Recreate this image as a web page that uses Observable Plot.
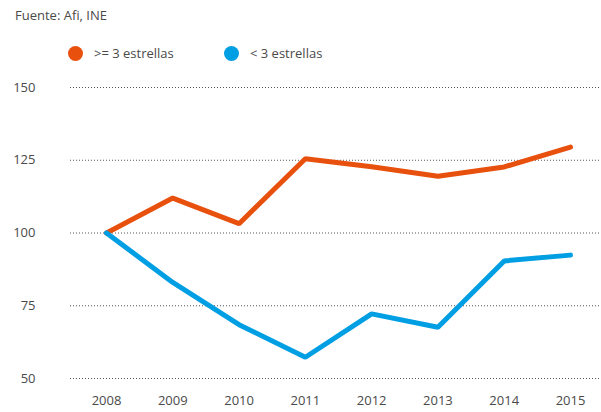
<!DOCTYPE html>
<html>
<head>
<meta charset="utf-8">
<script src="https://cdn.jsdelivr.net/npm/d3@7"></script>
<script src="https://cdn.jsdelivr.net/npm/@observablehq/plot@0.6"></script>
<style>
  html, body { margin: 0; padding: 0; background: #fff; }
  body { width: 601px; height: 412px; position: relative; overflow: hidden; font-family: "Open Sans", "Noto Sans", sans-serif; color: #4a4a4a; }
  #caption { position: absolute; left: 15px; top: 5px; font-size: 13px; line-height: 20px; }
  #legend { position: absolute; left: 0; top: 43px; height: 20px; width: 601px; font-size: 13px; }
  .item { position: absolute; top: 0; display: flex; align-items: center; height: 20px; }
  .dot { width: 15px; height: 15px; border-radius: 50%; margin-right: 11px; }
  #chart { position: absolute; left: 0; top: 70px; }
</style>
</head>
<body>
<div id="caption">Fuente: Afi, INE</div>
<div id="legend"></div>
<div id="chart"></div>
<script>
const years = [2008, 2009, 2010, 2011, 2012, 2013, 2014, 2015];
const highStars = [100, 112, 103.2, 125.5, 122.8, 119.5, 122.7, 129.5];
const lowStars = [100, 83, 68.5, 57.3, 72.2, 67.6, 90.4, 92.4];
const seriesNames = [">= 3 estrellas", "< 3 estrellas"];
const seriesColors = ["#E8500E", "#009EE2"];
const yTicks = [50, 75, 100, 125, 150];

const data = [];
years.forEach((y, i) => {
  data.push({year: y, value: highStars[i], serie: seriesNames[0]});
  data.push({year: y, value: lowStars[i], serie: seriesNames[1]});
});

const legend = document.getElementById("legend");
const legendX = [68, 224];
seriesNames.forEach((n, i) => {
  const it = document.createElement("div");
  it.className = "item";
  it.style.left = legendX[i] + "px";
  const d = document.createElement("span");
  d.className = "dot";
  d.style.background = seriesColors[i];
  it.appendChild(d);
  it.appendChild(document.createTextNode(n));
  legend.appendChild(it);
});

const chart = Plot.plot({
  width: 601,
  height: 342,
  marginTop: 17,
  marginBottom: 34,
  marginLeft: 70,
  marginRight: 0,
  insetLeft: 36,
  insetRight: 31,
  style: {fontFamily: "'Open Sans', 'Noto Sans', sans-serif", fontSize: "13px", color: "#4a4a4a", background: "#fff"},
  x: {domain: [2008, 2015], ticks: years, tickFormat: d => String(d), label: null},
  y: {domain: [50, 150], ticks: yTicks, label: null},
  color: {domain: seriesNames, range: seriesColors},
  marks: [
    Plot.ruleY(yTicks, {stroke: "#444", strokeWidth: 1, strokeDasharray: "1,2", strokeOpacity: 0.9}),
    Plot.axisY({ticks: yTicks, tickSize: 0, tickPadding: 35, label: null}),
    Plot.axisX({ticks: years, tickSize: 0, tickPadding: 17, tickFormat: d => String(d), label: null}),
    Plot.line(data, {x: "year", y: "value", z: "serie", stroke: "serie", strokeWidth: 5, strokeLinejoin: "miter", strokeLinecap: "round"})
  ]
});
document.getElementById("chart").appendChild(chart);
</script>
</body>
</html>
